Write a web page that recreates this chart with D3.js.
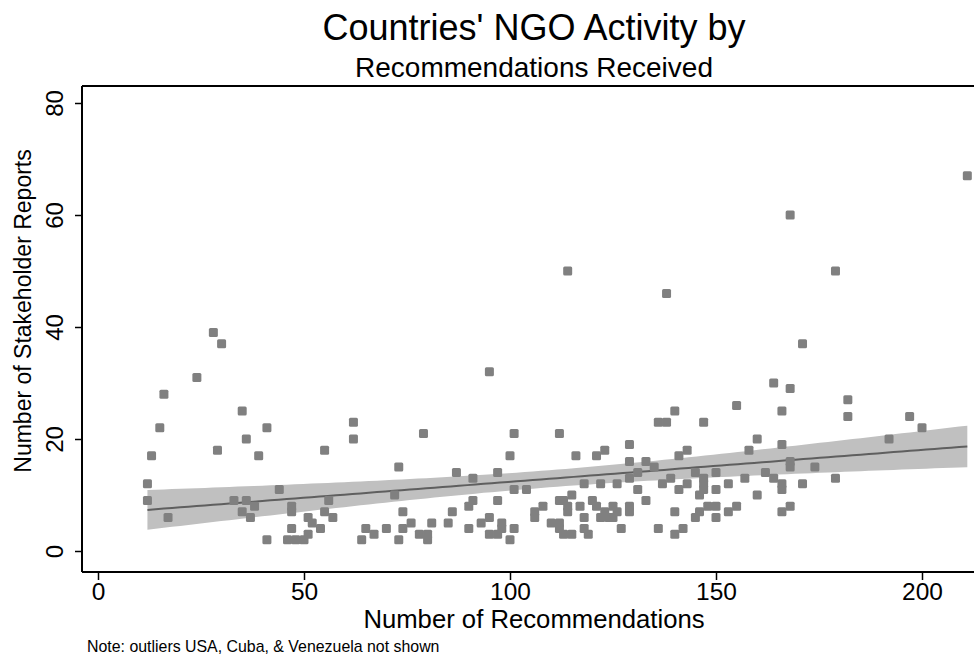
<!DOCTYPE html>
<html>
<head>
<meta charset="utf-8">
<script src="https://cdn.jsdelivr.net/npm/d3@7"></script>
<style>
  html, body { margin: 0; padding: 0; background: #fff; }
  svg { display: block; }
  text { font-family: "Liberation Sans", Arial, sans-serif; fill: #000; }
</style>
</head>
<body>
<svg id="chart" width="974" height="656"></svg>
<script>
// ---------- data ----------
const recommendations = [
  12,12,13,15,16,17,24,28,29,30,33,35,35,36,36,37,38,39,41,41,44,46,47,47,47,48,50,
  51,52,54,51,55,55,56,57,62,62,64,65,67,70,72,73,73,74,74,76,78,79,80,80,81,85,86,87,
  90,90,91,91,93,95,95,95,97,97,97,98,98,100,100,101,101,101,104,106,106,108,110,
  112,112,112,112,113,113,114,114,114,115,115,116,117,118,118,118,119,120,121,121,
  122,122,123,123,124,125,125,126,126,127,
  129,129,129,129,129,131,131,133,133,135,136,136,137,138,138,139,140,140,140,141,141,
  142,143,143,145,145,146,146,147,147,147,147,148,150,150,150,150,153,153,155,155,157,
  158,160,160,162,164,164,166,166,166,166,166,168,168,168,168,168,171,171,174,179,179,
  182,182,192,197,200,211
];
const stakeholderReports = [
  12,9,17,22,28,6,31,39,18,37,9,25,7,20,9,6,8,17,22,2,11,2,8,7,4,2,2,
  6,5,4,3,7,18,9,6,23,20,2,4,3,4,10,15,2,7,4,5,3,21,3,2,5,5,7,14,
  8,4,13,9,5,32,6,3,14,9,3,5,4,17,2,21,11,4,11,7,6,8,5,
  21,9,5,4,9,3,50,8,7,10,3,17,8,12,6,4,3,9,17,8,
  12,6,18,7,6,8,6,12,7,4,
  19,16,13,8,7,14,11,16,9,15,23,4,12,23,46,13,25,7,3,17,11,
  4,18,12,14,6,10,7,23,13,12,11,8,14,11,8,6,12,7,26,8,13,
  18,20,10,14,30,13,25,19,12,11,7,60,29,16,15,8,37,12,15,50,13,
  27,24,20,24,22,67
];
const xTickValues = [0, 50, 100, 150, 200];
const yTickValues = [0, 20, 40, 60, 80];

const titleText = "Countries' NGO Activity by";
const subtitleText = "Recommendations Received";
const xTitle = "Number of Recommendations";
const yTitle = "Number of Stakeholder Reports";
const noteText = "Note: outliers USA, Cuba, & Venezuela not shown";

// ---------- layout ----------
const W = 974, H = 656;
const plotLeft = 82, plotTop = 86, plotBottom = 572, plotRight = 990;

const svg = d3.select("#chart");

const x = d3.scaleLinear().domain([0, 200]).range([98, 922]);
const y = d3.scaleLinear().domain([0, 80]).range([551, 103]);

const points = recommendations.map((r, i) => ({ x: r, y: stakeholderReports[i] }));

// ---------- linear fit with 95% CI (as Stata lfitci) ----------
const n = points.length;
const mx = d3.mean(points, d => d.x), my = d3.mean(points, d => d.y);
let sxx = 0, sxy = 0;
points.forEach(d => { sxx += (d.x - mx) ** 2; sxy += (d.x - mx) * (d.y - my); });
const b = sxy / sxx, a = my - b * mx;
let sse = 0;
points.forEach(d => { sse += (d.y - (a + b * d.x)) ** 2; });
const s = Math.sqrt(sse / (n - 2));
const tcrit = 1.9726;
const xmin = d3.min(points, d => d.x), xmax = d3.max(points, d => d.x);
const grid = d3.range(0, 101).map(i => xmin + (xmax - xmin) * i / 100);
const fit = grid.map(g => {
  const yh = a + b * g;
  const se = s * Math.sqrt(1 / n + (g - mx) ** 2 / sxx);
  return { x: g, y: yh, lo: yh - tcrit * se, hi: yh + tcrit * se };
});

svg.append("path")
  .datum(fit)
  .attr("fill", "#c0c0c0")
  .attr("stroke", "none")
  .attr("d", d3.area().x(d => x(d.x)).y0(d => y(d.lo)).y1(d => y(d.hi)));

svg.append("path")
  .datum(fit)
  .attr("fill", "none")
  .attr("stroke", "#5f5f5f")
  .attr("stroke-width", 2)
  .attr("d", d3.line().x(d => x(d.x)).y(d => y(d.y)));

// ---------- scatter ----------
const ms = 9;
svg.append("g").selectAll("rect")
  .data(points)
  .join("rect")
  .attr("x", d => x(d.x) - ms / 2)
  .attr("y", d => y(d.y) - ms / 2)
  .attr("width", ms)
  .attr("height", ms)
  .attr("rx", 1.5)
  .attr("fill", "#808080");

// ---------- frame / axes ----------
svg.append("line").attr("x1", plotLeft).attr("x2", plotRight).attr("y1", plotTop).attr("y2", plotTop)
  .attr("stroke", "#000").attr("stroke-width", 2);

const yAxis = d3.axisLeft(y).tickValues(yTickValues).tickSize(7).tickPadding(0).tickFormat(d3.format("d"));
const gy = svg.append("g").attr("transform", `translate(${plotLeft},0)`).call(yAxis);
gy.select(".domain").attr("d", `M0,${plotTop}V${plotBottom}`).attr("stroke", "#000").attr("stroke-width", 2);
gy.selectAll(".tick line").attr("stroke", "#000").attr("stroke-width", 1.5);
gy.selectAll(".tick text").remove();
gy.selectAll(".tick").append("text")
  .attr("transform", "translate(-19,0) rotate(-90)")
  .attr("text-anchor", "middle")
  .style("font-size", "24px")
  .text(d => d);

const xAxis = d3.axisBottom(x).tickValues(xTickValues).tickSize(8).tickPadding(0).tickFormat(d3.format("d"));
const gx = svg.append("g").attr("transform", `translate(0,${plotBottom})`).call(xAxis);
gx.select(".domain").attr("d", `M${plotLeft},0H${plotRight}`).attr("stroke", "#000").attr("stroke-width", 2);
gx.selectAll(".tick line").attr("stroke", "#000").attr("stroke-width", 1.5);
gx.selectAll(".tick text").attr("y", 0).attr("dy", "28px").style("font-size", "24.5px").attr("fill", "#000");
gx.attr("font-family", null); gy.attr("font-family", null);

// ---------- titles ----------
svg.append("text").attr("x", 534).attr("y", 40).attr("text-anchor", "middle")
  .style("font-size", "36px").text(titleText);
svg.append("text").attr("x", 534).attr("y", 77).attr("text-anchor", "middle")
  .style("font-size", "28px").text(subtitleText);
svg.append("text").attr("x", 534).attr("y", 628).attr("text-anchor", "middle")
  .style("font-size", "25.7px").text(xTitle);
svg.append("text").attr("transform", "translate(31,311) rotate(-90)").attr("text-anchor", "middle")
  .style("font-size", "23px").text(yTitle);
svg.append("text").attr("x", 87).attr("y", 652)
  .style("font-size", "15.9px").text(noteText);
</script>
</body>
</html>
